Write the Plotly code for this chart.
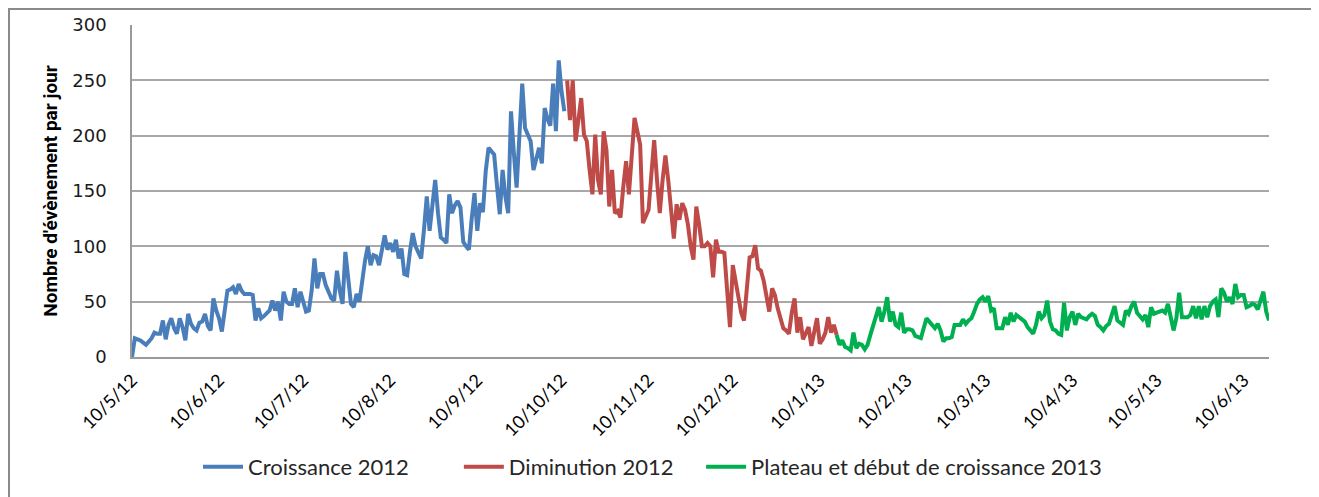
import pandas as pd
import plotly.graph_objects as go

# ---- data (daily counts) ----
blue_start = "2012-05-10"
blue_vals = [0, 17, 16, 15, 13, 11, 14, 17, 22, 21, 21,
             33, 16, 29, 35, 26, 21, 35, 27, 15, 39,
             30, 26, 24, 31, 32, 39, 28, 24, 53, 42, 35,
             23, 40, 60, 61, 63, 57, 66, 60, 57, 57, 57, 56,
             33, 44, 35, 37, 39, 42, 51, 42, 50, 33, 59, 50,
             48, 48, 62, 45, 59, 51, 41, 42, 60, 89, 62, 75,
             75, 65, 59, 53, 51, 78, 60, 48, 95, 70, 48, 45,
             57, 50, 70, 87, 100, 83, 92, 91, 83, 95, 110, 97,
             103, 95, 106, 89, 98, 75, 74, 95, 112, 100, 95, 89,
             115, 145, 114, 140, 160, 130, 108, 106, 103, 147, 130, 137,
             141, 135, 104, 100, 97, 125, 148, 114, 139, 131, 168, 189,
             186, 183, 155, 129, 169, 145, 130, 222, 185, 153, 200, 247,
             207, 200, 195, 169, 180, 189, 175, 225, 215, 209, 247, 204,
             268, 240, 222]

red_start = "2012-10-12"
red_vals = [250, 214, 250, 195, 214, 234, 201, 195, 169, 147,
            201, 160, 147, 204, 187, 136, 169, 130, 132, 126,
            154, 177, 147, 180, 216, 204, 192, 121, 128, 133,
            165, 196, 160, 130, 160, 182, 160, 130, 107, 138,
            124, 139, 133, 120, 100, 88, 136, 120, 100, 100,
            103, 100, 72, 106, 95, 95, 94, 60, 27, 83,
            70, 56, 40, 33, 65, 90, 91, 101, 80, 78,
            69, 55, 41, 62, 56, 44, 35, 26, 24, 21,
            40, 53, 22, 36, 16, 22, 27, 10, 25, 35,
            12, 16, 22, 36, 22, 29, 20]

green_start = "2013-01-16"
green_vals = [20, 11, 15, 9, 8, 6, 22, 8, 12, 11, 7,
              11, 20, 29, 38, 45, 32, 41, 54, 32, 41,
              29, 27, 40, 22, 25, 25, 24, 19, 18, 17,
              26, 35, 32, 29, 26, 30, 24, 14, 17, 17,
              18, 29, 29, 29, 34, 30, 33, 35, 41, 48,
              52, 54, 50, 55, 42, 44, 26, 26, 26, 36,
              29, 40, 32, 38, 36, 34, 32, 27, 24, 21,
              29, 41, 35, 38, 51, 32, 25, 24, 21, 20,
              49, 24, 36, 41, 29, 39, 36, 35, 34, 37,
              39, 37, 29, 27, 24, 28, 30, 38, 46, 33,
              31, 29, 42, 39, 46, 50, 40, 37, 34, 38,
              27, 45, 39, 40, 41, 42, 40, 48, 36, 24,
              35, 58, 36, 36, 36, 38, 46, 35, 46, 34,
              46, 36, 46, 50, 52, 36, 62, 58, 50, 54,
              48, 66, 54, 56, 56, 45, 46, 48, 47, 43,
              50, 59, 41, 33]

series_names = ["Croissance 2012", "Diminution 2012",
                "Plateau et début de croissance 2013"]
legend_pad = [8, 4, 0]   # extra spacing after each legend entry
series_colors = ["#4A7EBB", "#BE4B48", "#00B050"]

tick_dates = ["2012-05-10", "2012-06-10", "2012-07-10", "2012-08-10",
              "2012-09-10", "2012-10-10", "2012-11-10", "2012-12-10",
              "2013-01-10", "2013-02-10", "2013-03-10", "2013-04-10",
              "2013-05-10", "2013-06-10"]
tick_labels = ["10/5/12", "10/6/12", "10/7/12", "10/8/12", "10/9/12",
               "10/10/12", "10/11/12", "10/12/12", "10/1/13", "10/2/13",
               "10/3/13", "10/4/13", "10/5/13", "10/6/13"]

x_start = "2012-05-10"
x_end = "2013-06-19"

# ---- figure ----
fig = go.Figure()
for start, vals, name, pad, color in zip(
        [blue_start, red_start, green_start],
        [blue_vals, red_vals, green_vals],
        series_names, legend_pad, series_colors):
    dates = pd.date_range(start, periods=len(vals), freq="D")
    fig.add_trace(go.Scatter(
        x=dates, y=vals, mode="lines", name=name + "\u00a0" * pad,
        line=dict(color=color, width=4)))

# page body adds an 8px offset; figure sized to fit the window
W, H = 1311, 489
L, R, T, B = 124, 50, 17, 140
pw = W - L - R
ph = H - T - B

fig.update_layout(
    width=W, height=H,
    margin=dict(l=L, r=R, t=T, b=B, autoexpand=False),
    paper_bgcolor="white", plot_bgcolor="white",
    showlegend=True,
    legend=dict(orientation="h", xref="container", yref="container",
                x=190 / W, xanchor="left",
                y=1 - 459 / H, yanchor="middle",
                font=dict(family="Lato, Open Sans, sans-serif", size=22, color="#262626"),
                itemwidth=40, tracegroupgap=0),
    xaxis=dict(
        type="date", range=[x_start, x_end], automargin=False,
        tickvals=tick_dates, ticktext=tick_labels, tickangle=-45,
        tickfont=dict(family="Lato, Open Sans, sans-serif", size=18, color="#000000"),
        ticks="outside", ticklen=4, tickcolor="rgba(0,0,0,0)",
        showgrid=False, showline=True, linecolor="#9a9a9a", linewidth=1.5,
        zeroline=False),
    yaxis=dict(
        range=[0, 300], dtick=50, tick0=0, automargin=False,
        tickfont=dict(family="DejaVu Sans, Verdana, sans-serif", size=18, color="#1a1a1a"),
        ticks="outside", ticklen=20, tickcolor="rgba(0,0,0,0)",
        showgrid=True, gridcolor="#a8a8a8", gridwidth=1.5,
        showline=True, linecolor="#9a9a9a", linewidth=1.5,
        zeroline=False,
        title=dict(text="<b>Nombre d'évènement par jour</b>",
                   font=dict(family="Liberation Sans Narrow, Roboto, sans-serif", size=19, color="#000000"),
                   standoff=10)),
)

# outer frame of the chart
fig.add_shape(type="rect", xref="paper", yref="paper",
              x0=(1 - L) / pw, x1=(1306 - L) / pw,
              y0=(H - B - 505) / ph, y1=(H - B - 1) / ph,
              line=dict(color="#8a8a8a", width=2), fillcolor="rgba(0,0,0,0)",
              layer="below")

fig.write_html("out.html")
